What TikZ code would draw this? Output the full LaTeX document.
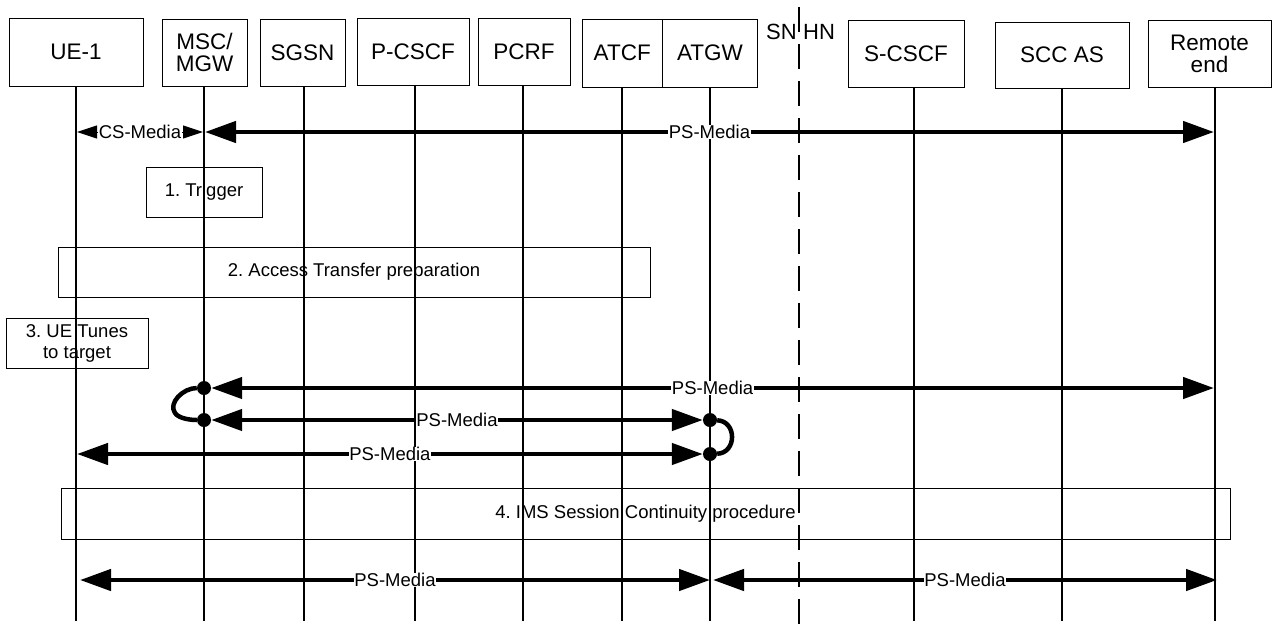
\documentclass[tikz,border=0pt]{standalone}
\usepackage{fontspec}
\setmainfont{Liberation Sans}
\usetikzlibrary{arrows.meta}
\frenchspacing
\begin{document}
\begin{tikzpicture}[x=1pt,y=-1pt,
  hdr/.style={draw, line width=1pt, inner sep=0pt, font=\fontsize{22.5}{22}\selectfont, align=center},
  stepbox/.style={draw, line width=0.9pt, inner sep=0pt, font=\fontsize{18.5}{21}\selectfont, align=center},
  life/.style={line width=1.3pt},
  media/.style={line width=4.5pt, {Triangle[length=31pt,width=21pt]}-{Triangle[length=31pt,width=21pt]}},
  thinmedia/.style={line width=1pt, {Triangle[length=20pt,width=13pt]}-{Triangle[length=20pt,width=13pt]}},
  lbl/.style={fill=white, inner sep=0.5pt, font=\fontsize{18.5}{20}\selectfont},
  dot/.style={circle, fill=black, inner sep=0pt, minimum size=14pt},
  mloop/.style={line width=4.5pt},
  sep/.style={line width=1.3pt, dash pattern=on 25pt off 12pt}
]
\useasboundingbox (0,0) rectangle (1282,633);

% header boxes
\node[hdr, minimum width=134pt, minimum height=68pt] (ue)   at (76,52)    {UE-1};
\node[hdr, minimum width=85pt,  minimum height=67pt] (msc)  at (204.5,52.5) {MSC/\\MGW};
\node[hdr, minimum width=85pt,  minimum height=67pt] (sgsn) at (302.5,52.5) {SGSN};
\node[hdr, minimum width=112pt, minimum height=67pt] (pcscf) at (413,52) {P-CSCF};
\node[hdr, minimum width=92pt,  minimum height=67pt] (pcrf) at (524,52) {PCRF};
\node[hdr, minimum width=80.5pt, minimum height=68pt] (atcf) at (622.25,53) {ATCF};
\node[hdr, minimum width=95pt,  minimum height=68pt] (atgw) at (710,53) {ATGW};
\node[hdr, minimum width=116pt, minimum height=67pt] (scscf) at (906,53.5) {S-CSCF};
\node[hdr, minimum width=134pt, minimum height=66pt] (scc)  at (1062,55) {SCC AS};
\node[hdr, minimum width=123pt, minimum height=67pt] (rem)  at (1209.5,53.5) {Remote\\end};

% SN / HN separator
\node[anchor=east, inner sep=0pt, font=\fontsize{22}{22}\selectfont] (sn) at (797,31.5) {SN};
\node[anchor=west, inner sep=0pt, font=\fontsize{22}{22}\selectfont] (hn) at (803,31.5) {HN};
\coordinate (sepT) at (799,7);
\coordinate (sepB) at (799,633);
\draw[sep] (sepT) -- (sepB);

% lifelines
\foreach \n/\x/\t in {ue/76/86, msc/204/86, sgsn/304/86, pcscf/415/86, pcrf/523/86,
                      atcf/622/87, atgw/710/87, scscf/914/87, scc/1062/88, rem/1215/87} {
  \coordinate (\n T) at (\x,\t);
  \coordinate (\n B) at (\x,621);
  \draw[life] (\n T) -- (\n B);
}

% step boxes
\node[stepbox, minimum width=116pt, minimum height=50pt] (s1) at (204,192) {1. Trigger};
\node[stepbox, minimum width=592pt, minimum height=50pt] (s2) at (354,272) {2. Access Transfer preparation};
\node[stepbox, minimum width=142pt, minimum height=50pt] (s3) at (77,343) {3. UE Tunes\\to target};
\node[stepbox, minimum width=1169pt, minimum height=51pt] (s4) at (645.5,513.5) {4. IMS Session Continuity procedure};

% row 0
\coordinate (ue0) at (77,132);
\coordinate (mscA0) at (203,132);
\coordinate (mscB0) at (205,132);
\coordinate (rem0) at (1214,132);
\draw[thinmedia] (ue0) -- (mscA0) node[lbl, midway] {CS-Media};
\draw[media] (mscB0) -- (rem0) node[lbl, midway] {PS-Media};

% dots
\node[dot] (d1) at (204,388) {};
\node[dot] (d2) at (204,420) {};
\node[dot] (d3) at (710,420) {};
\node[dot] (d4) at (710,454) {};
\coordinate (rem1) at (1214,388);
\coordinate (ue3) at (77,454);

\draw[media] (d1) -- (rem1) node[lbl, midway] {PS-Media};
\draw[media] (d2) -- (d3) node[lbl, midway] {PS-Media};
\draw[media] (ue3) -- (d4) node[lbl, midway] {PS-Media};

\draw[mloop] (d1) .. controls (183,388) and (168,403) .. (175,413) .. controls (179,419) and (192,420) .. (d2);
\draw[mloop] (d3) .. controls (737,421) and (737,453) .. (d4);

% bottom row
\coordinate (ue5) at (80,580);
\coordinate (atgwA5) at (710,580);
\coordinate (atgwB5) at (713,580);
\coordinate (rem5) at (1217,580);
\draw[media] (ue5) -- (atgwA5) node[lbl, midway] {PS-Media};
\draw[media] (atgwB5) -- (rem5) node[lbl, midway] {PS-Media};
\end{tikzpicture}
\end{document}
